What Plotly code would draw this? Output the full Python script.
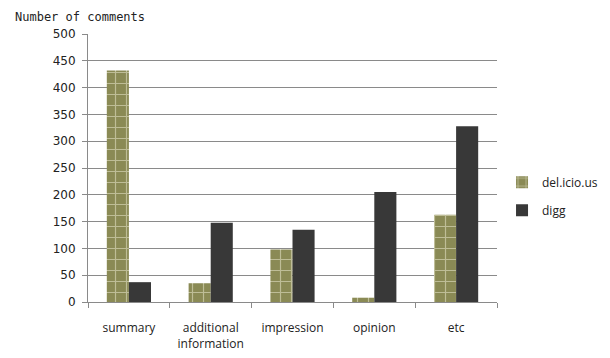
import plotly.graph_objects as go

categories = ["summary", "additional<br>information", "impression", "opinion", "etc"]
delicious = [432, 35, 98, 8, 163]
digg = [37, 148, 135, 205, 328]
y_ticks = [0, 50, 100, 150, 200, 250, 300, 350, 400, 450, 500]

fig = go.Figure()
fig.add_trace(go.Bar(
    x=categories, y=delicious, name="del.icio.us", legendgroup="a",
    marker=dict(
        color="#8a8a55",
        line=dict(width=0),
        pattern=dict(shape="+", fgcolor="#f2f0da", bgcolor="#8a8a55",
                     size=11, solidity=0.2, fillmode="overlay"),
    ),
))
fig.add_trace(go.Bar(
    x=categories, y=digg, name="digg", legendgroup="b",
    marker=dict(color="#383838", line=dict(width=0)),
))

fig.update_layout(
    width=610, height=358,
    margin=dict(l=88, r=113, t=34, b=56, autoexpand=False),
    paper_bgcolor="white", plot_bgcolor="white",
    barmode="group", bargap=0.46, bargroupgap=0,
    font=dict(family="DejaVu Sans", size=11, color="#222"),
    showlegend=True,
    legend=dict(xref="container", yref="container", x=0.823, y=0.452,
                xanchor="left", yanchor="middle",
                font=dict(family="Open Sans", size=12, color="#222"),
                itemwidth=30, tracegroupgap=9),
)
fig.add_annotation(
    text="Number of comments", xref="paper", yref="paper",
    x=-0.183, y=1.063, xanchor="left", yanchor="middle", showarrow=False,
    font=dict(family="DejaVu Sans Mono", size=12, color="#222"),
)

fig.update_yaxes(
    range=[0, 500], tickvals=y_ticks, showgrid=True, gridcolor="#8a8a8a",
    gridwidth=1, showline=True, linecolor="#8a8a8a", linewidth=1,
    ticks="outside", ticklen=5, tickcolor="#8a8a8a", zeroline=False,
    ticklabelstandoff=4, automargin=False,
    tickfont=dict(family="DejaVu Sans", size=12, color="#222"),
)
fig.update_xaxes(
    showline=True, linecolor="#8a8a8a", linewidth=1,
    ticks="outside", ticklen=5, tickcolor="#8a8a8a", tickson="boundaries",
    ticklabelstandoff=15, tickangle=0, automargin=False,
    tickfont=dict(family="Open Sans", size=12, color="#222"),
)

fig.write_html("out.html")
